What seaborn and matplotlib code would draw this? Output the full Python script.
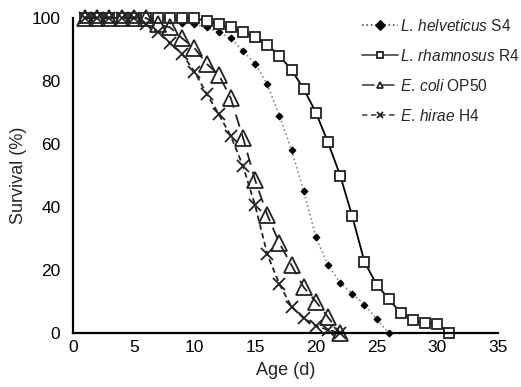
import numpy as np
import pandas as pd
import matplotlib
matplotlib.use("Agg")
import matplotlib.pyplot as plt
import seaborn as sns

# survival (%) per day
days_helveticus = list(range(1, 27))
surv_helveticus = [100, 100, 100, 100, 100, 100, 100, 99.5, 98.5, 98, 97, 95.5, 93.5, 89.5,
                   85.5, 79, 69, 58, 45, 30.5, 21.5, 16, 12.5, 9, 4.5, 0]

days_rhamnosus = list(range(1, 32))
surv_rhamnosus = [100, 100, 100, 100, 100, 100, 100, 100, 100, 100, 99, 98, 97, 95.5, 94,
                  91.5, 88, 83.5, 77.5, 70, 60.5, 50, 37, 22.6, 15.4, 10.8, 6.3, 4.1, 3.2, 2.9, 0]

days_coli = list(range(1, 23))
surv_coli = [100, 100, 100, 100, 100, 100, 98, 97, 93.5, 90.5, 85.5, 82, 74.5, 62,
             48.5, 37.5, 28.5, 21.5, 14.5, 10, 5, 0]

days_hirae = list(range(1, 23))
surv_hirae = [100, 100, 100, 100, 100, 98, 95.5, 92, 88.5, 83, 76, 69.5, 62.5, 53,
              40.5, 25, 15.5, 8.3, 4.7, 2.3, 1, 0]

labels = [r"$\mathit{L.}\,\mathit{helveticus}$ S4", r"$\mathit{L.}\,\mathit{rhamnosus}$ R4",
          r"$\mathit{E.}\,\mathit{coli}$ OP50", r"$\mathit{E.}\,\mathit{hirae}$ H4"]

sns.set_style("white")
plt.rcParams['font.family'] = ['Liberation Sans', 'DejaVu Sans']
plt.rcParams['mathtext.fontset'] = 'custom'
plt.rcParams['mathtext.rm'] = 'Liberation Sans'
plt.rcParams['mathtext.it'] = 'Liberation Sans:italic'

fig = plt.figure(figsize=(5.21, 3.87), dpi=100)
ax = fig.add_axes([0.140, 0.1395, 0.816, 0.814])

sns.lineplot(x=days_helveticus, y=surv_helveticus, ax=ax, color='#888888', linestyle=':',
             linewidth=1.2, marker='D', markersize=3.5, markerfacecolor='black',
             markeredgecolor='black', label=labels[0], clip_on=False)
sns.lineplot(x=days_rhamnosus, y=surv_rhamnosus, ax=ax, color='black', linestyle='-',
             linewidth=1.3, marker='s', markersize=7, markerfacecolor='white',
             markeredgecolor='#222222', markeredgewidth=1.3, label=labels[1], clip_on=False)
sns.lineplot(x=days_coli, y=surv_coli, ax=ax, color='#222222', linestyle=(0, (7, 4)),
             linewidth=1.3, marker='^', markersize=11, markerfacecolor='none',
             markeredgecolor='#222222', markeredgewidth=1.3, label=labels[2], clip_on=False)
sns.lineplot(x=days_hirae, y=surv_hirae, ax=ax, color='#222222', linestyle=(0, (3, 2)),
             linewidth=1.3, marker='x', markersize=9, markeredgecolor='#222222',
             markeredgewidth=1.3, label=labels[3], clip_on=False)

ax.set_xlim(0, 35)
ax.set_ylim(0, 100)
ax.set_xticks(range(0, 36, 5))
ax.set_yticks(range(0, 101, 20))
ax.tick_params(length=0, labelsize=12.5, colors='black')
ax.tick_params(axis='y', pad=9)
ax.tick_params(axis='x', pad=5)
for s in ['top', 'right']:
    ax.spines[s].set_visible(False)
for s in ['left', 'bottom']:
    ax.spines[s].set_color('black')
    ax.spines[s].set_linewidth(1.6)
ax.set_xlabel("Age (d)", fontsize=13, labelpad=5)
ax.set_ylabel("Survival (%)", fontsize=13, labelpad=3)

leg = ax.legend(loc='upper left', bbox_to_anchor=(0.683, 0.97), bbox_transform=fig.transFigure,
                frameon=False, fontsize=11.2, handlelength=2.3, handletextpad=0.15,
                labelspacing=0.9, borderaxespad=0)
for h in leg.legend_handles:
    h.set_markersize(5)
    h.set_color('#555555')

fig.savefig("out.png", dpi=100)
